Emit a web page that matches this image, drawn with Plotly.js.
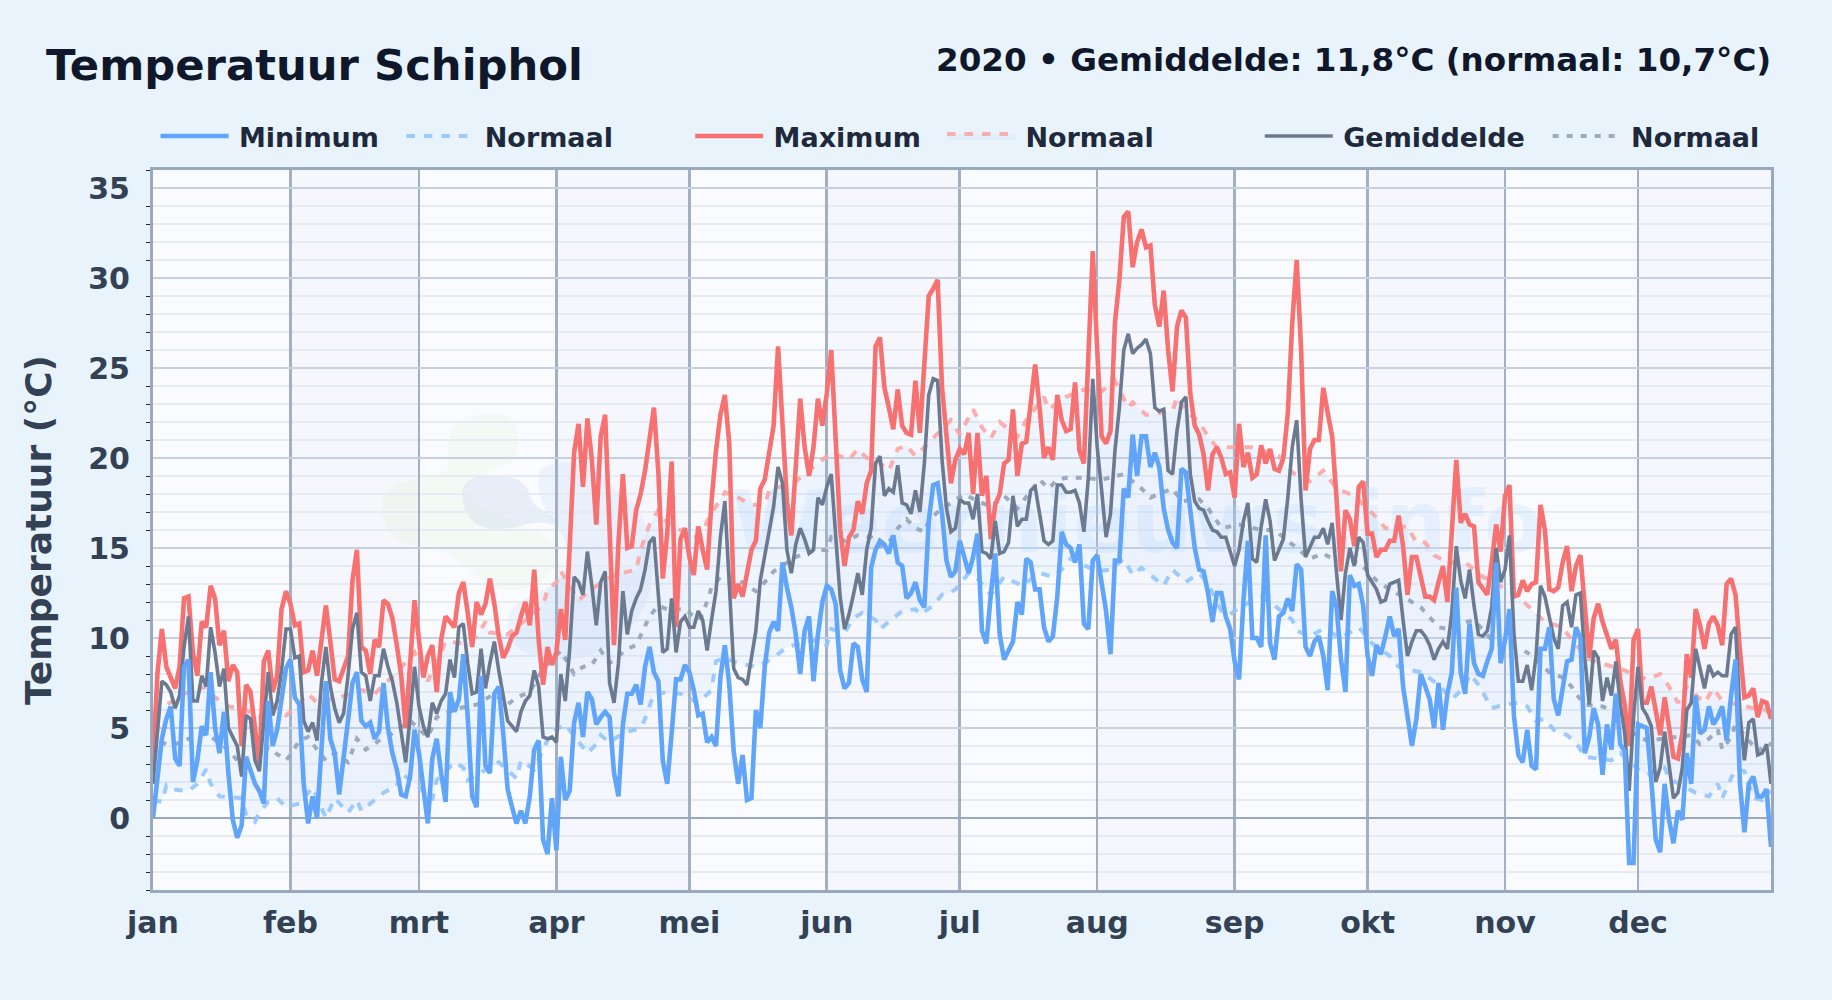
<!DOCTYPE html>
<html>
<head>
<meta charset="utf-8">
<script src="https://cdn.plot.ly/plotly-3.0.1.min.js"></script>
<style>html,body{margin:0;padding:0;background:#e9f3fb}</style>
</head>
<body>
<div id="chart" style="width:1832px;height:1000px"></div>
<script>
const maandNamen = ['jan','feb','mrt','apr','mei','jun','jul','aug','sep','okt','nov','dec'];
const maandStart = [0,31,60,91,121,152,182,213,244,274,305,335];
const jaarEinde = 365;

const maximum = [
3.0,8,10.5,8.4,7.8,7.2,8.4,12.2,12.3,9.2,7.9,10.9,10.6,12.9,12.2,9.6,10.4,7.6,8.5,8.1,4.0,7.4,7.0,4.7,3.0,8.7,9.3,7.0,7.9,11.6,12.6,
11.9,10.7,10.8,8.1,8.2,9.3,7.9,9.9,11.8,9.8,7.7,7.6,8.4,9,13.2,14.9,9.5,9.3,8,9.9,9.5,12.1,11.9,11.1,9.6,7.9,5,8.5,12.1,
9.9,7.8,9,9.6,7,9.9,11.2,10.9,10.6,12.5,13.1,11.4,9.5,12,11.3,11.9,13.3,11.9,10.1,8.9,9.4,10.1,10.3,11.2,12,10.7,13.8,9.9,7.4,9.5,8.5,
9.2,11.6,9.9,15.1,20.3,21.9,18.4,22.2,19.9,16.3,21.2,22.4,15.8,9.6,15.3,19.1,15,15.1,17.1,18,19.3,21,22.8,19.2,13.3,15.8,19.8,10.6,15.5,16.1,
14.5,13.5,16.2,14.9,13.8,17.6,20.4,22.4,23.5,20.8,12.2,13,12.3,13.6,14.9,15.4,18.3,18.8,20.4,21.8,26.2,22.3,17.6,15.7,19.5,23.3,20.6,19,20.6,23.3,21.8,
23.6,26,21.3,16.1,14,15.6,16,17.6,16.9,18.6,19.3,26.2,26.7,23.9,22.8,21.6,23.8,21.8,21.4,21.3,24.3,21.4,25.2,29,29.4,29.9,23.9,21.3,18.6,19.9,
20.5,20.2,21.4,18,21.4,17.9,19,15.5,17.4,18,19.7,19.9,22.7,19,20.8,20.9,23.2,25.2,22.8,20,20.6,19.9,23.5,22.1,21.5,21.6,24.2,20.4,19.7,25,31.5,
26,21.2,20.8,21.5,27.5,29.9,33.4,33.7,30.6,32,32.7,31.7,31.8,28.5,27.3,29.3,26,23.7,27.3,28.2,27.8,23.6,21.8,21.3,20.2,18.2,20.2,20.6,20,19.1,19.2,
17.8,21.9,19.5,20.3,18.9,19.1,20.7,19.7,20.5,19.4,19.3,20,22.5,27.5,31,26,18.2,20.5,21,21,23.9,22.5,21.2,17.7,13.7,17.1,16.6,15.1,18.4,18.7,
15.8,15.8,14.5,14.9,14.9,15.4,15.4,16.8,15.1,12.4,14.5,14.5,13.4,12.3,12.3,12.1,13.1,14,12,15.8,19.9,16.4,16.9,16.3,16.2,13.1,12.7,12.4,14.2,16.3,14.8,
17.9,18.5,12.3,12.4,13.2,12.6,13,13.1,17.4,16,12.7,12.6,12.8,14.2,15.1,12.6,14,14.6,11.5,8.9,11.1,11.9,10.9,10.1,9.4,9.9,7.6,6.3,4,9.9,
10.5,6.4,6.4,7.3,5.8,4.6,6.7,5,3.4,3.3,4.7,9.1,7.8,11.6,10.7,9.4,10.8,11.2,10.7,9.6,13,13.3,12.4,9.3,6.7,6.8,7.2,5.6,6.5,6.4,5.5];

const gemiddelde = [
1.9,4.7,7.6,7.4,7,6.1,6.8,9.5,11.2,6.5,6.5,7.9,7.3,10.6,9.2,7.3,8.3,5,4.5,4,2.3,5.7,5.5,3.2,2.6,5.6,8.1,5.7,6.5,8.2,10.5,
10.5,8.9,9,5.4,4.8,5.3,4.3,7.5,9.5,7.3,6.1,5.3,5.8,7.9,10.5,11.4,8.1,7.9,6.5,7.9,7.9,9.4,8.4,7.6,6.4,4.7,3.1,5.6,8.4,
6.2,5.1,4.5,6.4,5.8,6.5,6.9,8.8,7.8,10.6,10.8,8.6,6.9,7,9.4,7.2,8.6,9.8,8.2,6.9,5.4,5.1,4.8,5.9,6.5,6.8,8.2,7.3,4.5,4.4,4.5,
4.2,8,6.5,9.4,13.4,13.1,12.4,14.8,12.9,10.7,13.1,13.7,7.5,6.4,8.6,12.6,10.2,11.5,12.2,12.7,13.8,15.3,15.6,12.1,9.2,9.4,12.2,9.2,10.9,11.2,
10.6,10.6,11.5,11,9.3,11,12.6,15.6,17.6,13,8.3,7.8,7.7,7.4,8.9,10.4,13.2,14.5,15.8,17.3,19.5,18.6,14.9,13.6,15.2,16.1,15.5,14.7,14.9,17.8,17.4,
18.4,19.1,15.8,12.3,10.5,11.3,12.4,13.6,12.4,14.9,16.1,19.7,20.1,17.9,18.3,18.1,19.6,17.5,17.4,16.9,18.2,17,19.7,23.5,24.4,24.3,19.9,17.2,15.9,16.1,
17.7,17.5,17.5,16.6,18,14.8,14.7,14.4,16.5,14.7,14.8,15.3,17.9,16.2,16.6,16.6,18.2,18.4,16.9,15.4,15.2,15.4,18.5,18.5,18.1,18.1,18.2,17.5,15.9,18.9,24.4,
20.6,18.2,15.6,16.9,20.4,22.8,26,26.9,25.8,26.1,26.3,26.6,25.8,22.8,22.6,22.7,19.3,19.1,21.5,23.1,23.4,19.1,17.6,17.2,17.1,16.5,16,15.9,15.6,15.6,14.8,
14,14.9,16.5,17.5,14.4,14.2,16.2,17.7,16.5,14.3,14.9,15.5,17.8,20.6,22.1,17.7,14.5,15,15.6,15.6,16.1,15.2,16.4,13.6,11,13.6,15,14,15.6,15.3,
13.5,13.1,12.7,12,12.1,13,13.1,13.2,11,9,9.8,10.4,10.4,10.1,9.6,8.8,9.4,9.8,9.4,11.4,15.1,13.2,12.2,13.8,11.8,10.2,10.1,10.4,11.7,15,13.1,
13.8,15.7,10.3,7.6,7.6,8.5,7.1,9,12.9,12.3,11.2,10,9.4,11.8,12,10.6,12.4,12.5,8.9,6.3,9.3,8.9,6.5,7.8,6.8,8.7,6.3,4.7,1.5,5.6,
8.4,6.1,5.7,5.1,2,2.8,4.8,2.8,1.1,1.4,2.8,6,6.4,9.4,8.4,7.2,8.5,7.9,8.1,7.9,7.9,10.2,10.6,5.8,3.2,5.3,5.5,3.5,3.6,4.1,1.9];

const minimum = [
0,2.3,4.4,5.5,6.2,3.3,2.9,8.4,8.8,2,3.2,5.1,4.6,8.1,5,3.6,5.9,2.5,-0.1,-1.1,-0.4,3.4,2.7,1.9,1.5,0.8,6.5,4,4.9,6.8,8.3,
8.8,6.7,6.3,1.9,-0.3,1.2,0,3.4,7.6,4.4,3.6,1.3,3.4,5.6,7.5,8.1,5.4,5.1,5.3,4.4,4.8,7.5,5,3.6,2.7,1.3,1.2,2.3,4.9,
3.6,1.4,-0.3,3.3,4.4,2.5,0.9,7,5.9,6.6,9.1,5.6,1.2,0.6,7.9,2.9,2.5,6.9,7.3,4.7,1.6,0.6,-0.3,0.4,-0.3,1.2,3.8,4.3,-1.2,-2,1.1,
-1.8,3.4,1,1.5,5.3,6.4,4.5,7,6.6,5.2,5.6,5.9,5.6,2.5,1.2,5.2,6.9,6.9,7.4,6.3,8.4,9.5,8.1,7.6,3.2,1.9,4.7,7.7,7.7,8.5,
8.1,7.1,5.7,5.8,4.2,4.5,4,7.8,9.6,7.4,3.7,1.9,3.5,1,1.1,6,5,8.4,10.3,10.9,10.4,14.2,12.8,11.7,10.2,8,10.4,11.2,7.6,10.2,12,
12.9,12.7,11.9,8.2,7.2,7.5,9.7,9.5,7.7,7,13.9,14.9,15.4,15.2,14.7,15.7,14.2,14,12.2,12.5,13.1,12.1,11.7,16.5,18.5,18.6,16.9,14.3,13.4,13.7,
15.4,14.5,13.6,14.5,15.8,10.4,9.7,12.4,14.7,10.2,8.8,9.3,9.8,12,11.3,14.4,14.2,12.7,12.7,10.6,9.8,10.1,12.3,15.9,15.2,15,14.2,15.2,10.8,10.5,14.3,
14.6,13,11.5,9.1,14.3,14.3,18.3,17.8,21.3,19,21.2,21.2,19.5,20.3,19.5,17.2,16,15.3,15,19.4,19.2,17.1,15,13.8,13.7,12.5,10.9,12.5,12.5,11.2,10.5,
8.7,7.7,12.1,15.4,10,10,9.5,15.7,9.7,8.8,11.2,11.4,12.2,11.5,14.1,13.8,9.5,9,9.8,10.1,9,7.1,12.6,11.7,8.8,7,13.5,12.9,13,11.8,
9,7.9,9.6,9.1,10.1,11.2,10.1,10.5,7.3,5.5,4,5.5,8,7.3,6.6,5,7.5,4.9,6.9,8.1,12.8,8.1,6.9,10.8,8.6,8,7.9,8.7,9.4,14.2,8.6,
9.9,11.6,5.7,3.5,3.1,4.9,2.9,2.7,9.4,9.4,10.6,6.6,5.7,7.4,8.7,8.8,10.6,10,3.6,4.5,6.1,5.2,2.4,5.2,3.8,6.9,4.1,3.7,-2.5,-2.5,
5.2,5.1,5,2.1,-1.2,-1.9,1.9,-0.1,-1.4,0.4,-0.1,3.6,1.9,6.8,4.7,4.9,6.2,5.2,5.6,6.2,4.3,6.8,8.8,1.9,-0.8,1.9,2.3,1.2,1.2,1.6,-1.6];

const normaalMin = [[0,1],[2,.9],[3,1.8],[4,1.6],[8,1.5],[10,1.9],[12,2.7],[13,1.9],[15,1.2],[20,1.1],[21,.2],[23,-.2],[24,.3],[26,.9],[28,1.1],[30,.6],[33,.8],[36,1.7],[39,0],[41,1.1],[44,.3],[46,1],[47,.4],[50,1],[52,1.4],[55,1.8],[56,2.5],[60,1.7],[63,1],[64,2.1],[68,3.1],[70,2.8],[71,2.1],[78,3.1],[82,2.2],[83,3.2],[86,2.7],[88,3.8],[90,4.8],[93,5.2],[96,4.2],[98,3.6],[100,4.1],[101,4.6],[103,4.2],[106,4.7],[110,5],[111,5.5],[113,6.9],[117,7],[119,6.9],[123,6.4],[126,7.1],[127,8.7],[129,8.9],[132,8.6],[136,8.4],[137,8.5],[140,8.9],[143,9.5],[146,9.7],[150,9.9],[152,9.6],[153,10.5],[156,10.3],[158,11.1],[160,11.4],[163,11],[164,10.5],[166,10.9],[169,11.5],[172,11.6],[173,11.3],[176,11.8],[178,12.4],[179,12.4],[181,12.7],[184,13.6],[186,13.3],[189,12.4],[192,13.4],[196,12.9],[200,13.6],[203,13.4],[205,13.8],[207,14.4],[211,13.9],[213,13.7],[216,13.8],[219,14.4],[221,13.5],[223,13.9],[225,13.5],[228,12.9],[230,13.8],[233,13.1],[236,13.6],[238,13],[241,11.5],[243,11.3],[245,11.7],[250,12.3],[253,11.8],[257,11],[258,10.4],[261,10.1],[264,10.5],[268,10],[272,10.6],[275,9.7],[279,9],[281,8.4],[284,8.2],[286,8.1],[290,7.4],[293,6.6],[296,7.3],[297,8],[299,7.4],[302,6.1],[305,6.3],[308,6.4],[310,6.2],[312,5.4],[314,5.5],[316,4.9],[319,4.6],[321,4.2],[323,3.4],[326,3.3],[329,3.2],[331,3.6],[333,3.2],[335,2.7],[337,2.4],[341,2.8],[342,2.2],[348,1.4],[351,1.2],[353,1.9],[354,1.1],[356,2.2],[357,2.7],[359,2.6],[361,1.1],[363,1],[365,1.5]];

const normaalMax = [[0,5.8],[2,6.1],[7,6.9],[12,7.3],[14,6.7],[17,6.2],[21,6],[24,5.6],[27,6.3],[30,5.7],[32,6.1],[35,6.9],[37,6.4],[40,6.6],[42,6.7],[47,7.1],[50,6.9],[55,8.1],[59,9.2],[62,7.6],[66,9.8],[70,9.7],[73,10.1],[75,10.9],[76,10.3],[80,10.2],[85,11.2],[88,11.8],[89,12.7],[91,13.1],[92,13.7],[96,12.1],[100,12.9],[104,13.5],[109,13.8],[110,14.9],[112,16.3],[114,17.1],[116,16.4],[122,15.6],[124,15.8],[125,16.5],[129,18.1],[132,17.8],[135,17.4],[138,17.4],[139,18.2],[145,18.7],[150,19.7],[153,20.3],[157,19.9],[159,20.5],[161,20],[163,19.9],[166,19.3],[168,20.5],[170,20.7],[172,20.1],[176,21.1],[180,22.1],[182,21.3],[184,22.3],[185,22.7],[187,21.7],[189,21.1],[191,22],[195,21.2],[197,22.1],[201,23.4],[202,22.7],[206,23.4],[210,23.8],[214,23.7],[217,24.3],[220,22.8],[221,23.1],[224,22.4],[230,22.6],[231,23.4],[233,22.6],[236,22],[238,21.2],[240,20.6],[243,20.6],[248,20.6],[254,20.1],[257,19.2],[261,18.7],[264,19.3],[267,18.3],[271,17.9],[276,16.7],[278,16.1],[283,16.2],[285,15.3],[287,15.3],[289,14.6],[292,14.2],[296,14.2],[300,13.4],[304,12.9],[307,12.5],[311,11.6],[314,10.9],[318,10.6],[320,9.9],[324,8.8],[328,8.5],[332,8.2],[337,7.7],[340,8],[342,7.3],[344,6.4],[346,7.3],[350,6.4],[352,7.2],[354,6.5],[361,6.1],[363,6.1],[365,5.8]];

const normaalGem = [[0,3.5],[2,4.2],[4,4],[8,4.4],[12,4.7],[17,3.8],[20,2.9],[23,3],[26,3.9],[30,3.2],[31,3.5],[33,4.3],[35,4.5],[37,3.8],[39,3.2],[41,3.6],[44,3.1],[46,4.4],[48,3.8],[51,4.3],[54,4.7],[58,5.4],[62,4.5],[64,5.6],[69,6.1],[73,6.3],[77,6.9],[80,6.3],[82,6.7],[85,7],[88,8.3],[92,9.3],[95,8],[97,8.4],[99,8.5],[101,9.3],[103,8.6],[107,9.4],[109,9.6],[112,11.2],[114,11.8],[116,11.6],[120,11.6],[123,11],[124,11.3],[126,12.8],[128,13.4],[131,13.4],[136,12.6],[138,13.1],[140,13.7],[145,14.5],[148,14.8],[152,14.9],[153,15.6],[156,15.4],[159,15.7],[162,15.6],[164,15.1],[166,15.3],[168,16.1],[170,16.6],[172,16.1],[174,15.9],[175,16.5],[177,17],[183,18],[186,17.6],[189,17.3],[192,17.9],[195,17.2],[200,18.8],[202,18.3],[204,18.8],[206,18.9],[209,18.9],[214,18.8],[219,19.1],[223,18.3],[225,17.8],[230,18.3],[232,17.6],[236,17.7],[238,17.2],[240,16.5],[241,16.1],[245,16.3],[250,16],[253,16],[257,15.2],[261,14.4],[264,14.7],[266,14.4],[272,14.2],[276,13.2],[279,12.7],[282,12.3],[286,11.7],[290,10.6],[292,10.5],[295,10.8],[298,11],[302,9.9],[305,9.5],[308,9.4],[310,9.2],[311,9],[315,8.1],[318,7.8],[320,7.3],[321,6.9],[323,6.3],[327,6.2],[332,5.6],[334,4.7],[337,4.3],[343,4.5],[347,4.6],[349,4.1],[351,4.4],[353,4.9],[354,3.8],[356,4.5],[357,5.2],[360,4.3],[362,3.7],[364,4.1],[365,4.1]];

const dagen = maximum.map((_, i) => i);
const kolom = (paren, i) => paren.map(p => p[i]);
const FONT = '"DejaVu Sans", sans-serif';
const watermerk = 'Weernieuws.info';

const L = 152.5, B = 890, W = 1619, H = 720.5;
const legendaPos = [155, 401, 690, 942, 1260, 1548];
const legendaKeys = ['legend','legend2','legend3','legend4','legend5','legend6'];
const legendas = {};
legendaKeys.forEach((k, i) => {
  legendas[k] = {
    x: (legendaPos[i] - L) / W, y: (B - 136) / H, xref: 'paper', yref: 'paper',
    xanchor: 'left', yanchor: 'middle', bgcolor: 'rgba(0,0,0,0)', borderwidth: 0,
    itemwidth: 68, itemclick: false, itemdoubleclick: false,
    font: {family: FONT, size: 27, color: '#1e293b', weight: 700}
  };
});

const ds = '\u2009';
const traces = [
  {x: [222], y: [16], mode: 'text', text: [watermerk], showlegend: false, hoverinfo: 'skip', cliponaxis: true,
   textfont: {family: FONT, size: 86, weight: 700, color: 'rgba(191,219,254,0.28)'}, textposition: 'middle center'},
  {x: kolom(normaalMin, 0), y: kolom(normaalMin, 1), name: ds + 'Normaal', legend: 'legend2', mode: 'lines',
   line: {color: 'rgba(147,197,253,0.9)', width: 4, dash: '8.5px,9px'}},
  {x: kolom(normaalMax, 0), y: kolom(normaalMax, 1), name: ds + 'Normaal', legend: 'legend4', mode: 'lines',
   fill: 'tonexty', fillcolor: 'rgba(147,197,253,0.10)',
   line: {color: 'rgba(252,165,165,0.9)', width: 4, dash: '8.5px,9px'}},
  {x: kolom(normaalGem, 0), y: kolom(normaalGem, 1), name: ds + 'Normaal', legend: 'legend6', mode: 'lines',
   line: {color: 'rgba(148,163,184,0.9)', width: 4, dash: '6px,8px'}},
  {x: dagen, y: maximum, name: ds + 'Maximum', legend: 'legend3', mode: 'lines', line: {color: '#f87171', width: 4.6}},
  {x: dagen, y: gemiddelde, name: ds + 'Gemiddelde', legend: 'legend5', mode: 'lines', line: {color: '#6b7a90', width: 3.6}},
  {x: dagen, y: minimum, name: ds + 'Minimum', legend: 'legend', mode: 'lines', line: {color: '#60a5fa', width: 4.6}}
];

// Maandbanden (even maanden iets getint)
const banden = [];
maandStart.forEach((s, i) => {
  if (i % 2 === 1) banden.push({type: 'rect', layer: 'below', xref: 'x', yref: 'paper', x0: s, x1: maandStart[i + 1] || jaarEinde, y0: 0, y1: 1,
    fillcolor: 'rgba(148,163,214,0.04)', line: {width: 0}});
});

// Logo-watermerk (vage vlekken), in pixels van de pagina
const pad = (pts) => pts.replace(/(-?\d+(?:\.\d+)?) (-?\d+(?:\.\d+)?)/g, (m, a, b) => ((+a - L) / W).toFixed(4) + ' ' + ((B - b) / H).toFixed(4));
const vlekken = [
  ['M 448 450 C 445 420 470 412 500 414 C 522 416 522 450 510 462 C 490 470 470 480 462 492 C 490 520 530 520 556 545 C 560 570 540 590 510 590 C 480 590 470 560 430 545 C 400 550 378 530 382 500 C 385 480 420 480 448 470 Z', 'rgba(222,240,205,0.22)'],
  ['M 462 495 C 462 478 480 474 495 475 C 515 476 528 482 530 497 C 535 510 552 512 558 526 C 540 520 530 523 515 527 C 490 531 465 530 462 495 Z', 'rgba(200,214,235,0.34)'],
  ['M 540 470 C 555 455 600 460 615 490 C 640 500 660 540 650 590 C 640 630 600 660 560 660 C 520 660 500 640 510 610 C 530 590 560 590 570 560 C 570 530 530 510 540 470 Z', 'rgba(190,215,245,0.22)']
];
const logo = vlekken.map(v => ({type: 'path', layer: 'below', xref: 'paper', yref: 'paper', path: pad(v[0]), fillcolor: v[1], line: {width: 0}}));

const layout = Object.assign({
  width: 1832, height: 1000,
  paper_bgcolor: '#e9f3fb', plot_bgcolor: '#f9fbff',
  margin: {l: L, r: 1832 - L - W, t: 1000 - (1000 - B) - H, b: 1000 - B, pad: 0, autoexpand: false},
  font: {family: FONT},
  title: {text: '<b>Temperatuur Schiphol</b>', x: 46 / 1832, xref: 'container', xanchor: 'left', y: 1 - 65 / 1000, yref: 'container', yanchor: 'middle',
          font: {family: FONT, size: 43.3, color: '#0f172a'}},
  xaxis: {
    range: [0, jaarEinde], tickmode: 'array', tickvals: maandStart, ticktext: maandNamen, tickangle: 0,
    showgrid: true, gridcolor: '#a3b0c4', gridwidth: 2.6, zeroline: false,
    showline: true, linecolor: '#9aa8bd', linewidth: 3, mirror: true,
    ticks: '', ticklabelstandoff: 4, automargin: false,
    tickfont: {family: FONT, size: 30, color: '#334155', weight: 700}
  },
  yaxis: {
    range: [-4, 36], tickmode: 'linear', tick0: 0, dtick: 5,
    showgrid: true, gridcolor: '#c6d0e0', gridwidth: 2.5,
    zeroline: true, zerolinecolor: '#9aa8bd', zerolinewidth: 2.8,
    showline: true, linecolor: '#9aa8bd', linewidth: 3, mirror: true,
    ticks: '', ticklabelstandoff: 14, automargin: false,
    tickfont: {family: FONT, size: 30, color: '#334155', weight: 700},
    title: {text: '<b>Temperatuur (°C)</b>', standoff: 26, font: {family: FONT, size: 36, color: '#334155'}},
    minor: {dtick: 1, tick0: 0, showgrid: true, gridcolor: '#e6ebf2', gridwidth: 2, ticks: 'outside', ticklen: 4, tickcolor: '#1e293b', tickwidth: 1}
  },
  annotations: [{
    text: '<b>2020 • Gemiddelde: 11,8°C (normaal: 10,7°C)</b>', xref: 'paper', yref: 'paper', x: 1, y: (B - 59) / H, xshift: 2,
    xanchor: 'right', yanchor: 'middle', showarrow: false, font: {family: FONT, size: 32.6, color: '#0f172a'}
  }],
  shapes: banden.concat(logo),
  hovermode: false
}, legendas);

Plotly.newPlot('chart', traces, layout, {displayModeBar: false, staticPlot: true});
</script>
</body>
</html>
